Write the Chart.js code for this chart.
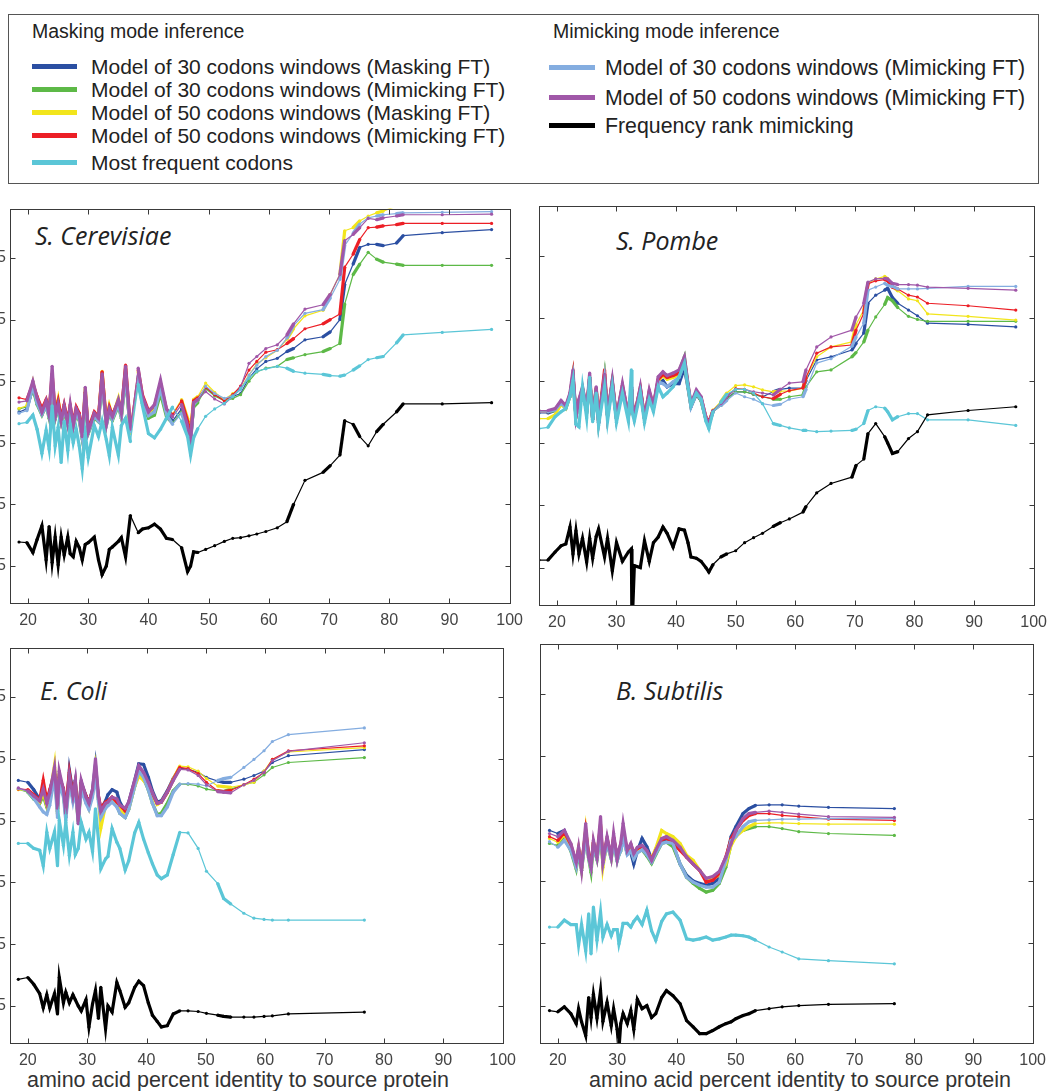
<!DOCTYPE html>
<html>
<head>
<meta charset="utf-8">
<script src="https://cdn.jsdelivr.net/npm/chart.js@4.4.1/dist/chart.umd.min.js"></script>
<style>
  html, body { margin: 0; padding: 0; background: #fff; }
  body { width: 1058px; height: 1091px; position: relative; overflow: hidden; font-family: "Liberation Sans", Arial, sans-serif; color: #222; }
  .box { position: absolute; left: 8px; top: 14px; width: 1031px; height: 170px; border: 1px solid #555; box-sizing: border-box; }
  .txt { position: absolute; white-space: nowrap; height: 24px; line-height: 24px; }
  .sw { position: absolute; height: 5px; }
  .species { position: absolute; font-family: "Open Sans", sans-serif; font-style: italic; font-size: 25px; letter-spacing: 0; line-height: 30px; color: #222; white-space: nowrap; }
  .xtitle { position: absolute; font-size: 21.5px; color: #333; line-height: 26px; white-space: nowrap; }
  canvas { position: absolute; }
</style>
</head>
<body>
<div class="box"></div>
<div id="legend"></div>

<div class="species" style="left:35px; top:220px;">S. Cerevisiae</div>
<div class="species" style="left:616px; top:225px;">S. Pombe</div>
<div class="species" style="left:40px; top:675px;">E. Coli</div>
<div class="species" style="left:616px; top:675px;">B. Subtilis</div>

<div class="xtitle" style="left:27px; top:1067px;">amino acid percent identity to source protein</div>
<div class="xtitle" style="left:589px; top:1067px;">amino acid percent identity to source protein</div>

<canvas id="c1"></canvas>
<canvas id="c2"></canvas>
<canvas id="c3"></canvas>
<canvas id="c4"></canvas>

<script>
// ---- series names / colours ----
const MASKING_TITLE = "Masking mode inference";
const MIMICKING_TITLE = "Mimicking mode inference";
const NAMES = {
  blue: "Model of 30 codons windows (Masking FT)",
  green: "Model of 30 codons windows (Mimicking FT)",
  yellow: "Model of 50 codons windows (Masking FT)",
  red: "Model of 50 codons windows (Mimicking FT)",
  cyan: "Most frequent codons",
  lightblue: "Model of 30 codons windows (Mimicking FT)",
  purple: "Model of 50 codons windows (Mimicking FT)",
  black: "Frequency rank mimicking"
};
const COLORS = {
  blue: "#2b4fa2", green: "#5db947", yellow: "#f2e51c", red: "#ec1f26",
  cyan: "#5bc6d7", lightblue: "#84ade0", purple: "#a057a8", black: "#000000"
};

// axes
const X_TICKS = [20, 30, 40, 50, 60, 70, 80, 90, 100];
const Y_TICKS = [0.15, 0.25, 0.35, 0.45, 0.55, 0.65];
const X_MIN = 17, X_MAX = 100, Y_MIN = 0.09, Y_MAX = 0.73;

// ---- S. Cerevisiae ----
const P1_X = [
  18.5, 19.8, 20.8, 21.5, 22.3, 23, 23.5, 24, 24.5, 25,
  25.5, 26, 26.6, 27, 27.5, 28, 28.5, 29, 29.5, 30,
  31, 31.7, 32.3, 33, 33.5, 34, 35, 35.5, 36.2, 37,
  38.3, 39, 40, 41, 42, 43, 44, 45.5, 46.5, 47,
  47.5, 48.2, 49.5, 51, 52.6, 54, 55.3, 56.7, 58, 59.5,
  61.4, 63, 64.1, 66, 69, 70.2, 71.8, 72.6, 74, 75.1,
  76.5, 77.9, 79, 81.2, 82.3, 88.8, 97];
const P1_BLUE = [
  0.400, 0.405, 0.440, 0.415, 0.398, 0.412, 0.394, 0.448, 0.392, 0.410,
  0.386, 0.405, 0.382, 0.404, 0.378, 0.400, 0.390, 0.360, 0.425, 0.368,
  0.395, 0.386, 0.455, 0.380, 0.402, 0.390, 0.414, 0.394, 0.462, 0.368,
  0.455, 0.418, 0.396, 0.402, 0.435, 0.398, 0.385, 0.405, 0.375, 0.358,
  0.410, 0.418, 0.440, 0.428, 0.420, 0.425, 0.430, 0.455, 0.470, 0.482,
  0.487, 0.498, 0.503, 0.517, 0.522, 0.530, 0.550, 0.607, 0.640, 0.667,
  0.672, 0.672, 0.670, 0.674, 0.686, 0.691, 0.696];
const P1_GREEN = [
  0.405, 0.408, 0.438, 0.412, 0.395, 0.410, 0.390, 0.445, 0.388, 0.405,
  0.382, 0.400, 0.378, 0.400, 0.375, 0.396, 0.386, 0.356, 0.420, 0.365,
  0.390, 0.384, 0.450, 0.378, 0.398, 0.386, 0.410, 0.390, 0.458, 0.366,
  0.450, 0.414, 0.390, 0.395, 0.430, 0.392, 0.382, 0.400, 0.372, 0.356,
  0.408, 0.415, 0.438, 0.426, 0.418, 0.422, 0.428, 0.450, 0.465, 0.471,
  0.474, 0.485, 0.488, 0.493, 0.498, 0.503, 0.511, 0.575, 0.623, 0.640,
  0.659, 0.648, 0.643, 0.640, 0.638, 0.638, 0.638];
const P1_YELLOW = [
  0.406, 0.410, 0.448, 0.420, 0.402, 0.416, 0.398, 0.455, 0.395, 0.420,
  0.388, 0.408, 0.384, 0.408, 0.380, 0.402, 0.392, 0.362, 0.438, 0.370,
  0.396, 0.388, 0.466, 0.382, 0.410, 0.392, 0.422, 0.396, 0.470, 0.365,
  0.465, 0.420, 0.398, 0.408, 0.440, 0.400, 0.396, 0.420, 0.390, 0.370,
  0.420, 0.425, 0.447, 0.432, 0.420, 0.430, 0.438, 0.460, 0.478, 0.488,
  0.500, 0.518, 0.535, 0.556, 0.565, 0.591, 0.623, 0.694, 0.699, 0.710,
  0.718, 0.723, 0.726, 0.734, null, null, null];
const P1_RED = [
  0.423, 0.420, 0.445, 0.425, 0.405, 0.420, 0.400, 0.462, 0.398, 0.418,
  0.390, 0.412, 0.386, 0.410, 0.382, 0.408, 0.398, 0.365, 0.432, 0.372,
  0.400, 0.392, 0.465, 0.385, 0.408, 0.395, 0.418, 0.400, 0.476, 0.375,
  0.468, 0.428, 0.402, 0.410, 0.446, 0.404, 0.395, 0.418, 0.385, 0.362,
  0.418, 0.423, 0.440, 0.428, 0.418, 0.428, 0.442, 0.468, 0.482, 0.497,
  0.501, 0.511, 0.519, 0.535, 0.543, 0.550, 0.559, 0.635, 0.656, 0.680,
  0.699, 0.700, 0.702, 0.704, 0.706, 0.706, 0.706];
const P1_CYAN = [
  0.381, 0.383, 0.395, 0.372, 0.333, 0.370, 0.340, 0.410, 0.345, 0.375,
  0.318, 0.385, 0.338, 0.380, 0.350, 0.372, 0.345, 0.308, 0.365, 0.326,
  0.378, 0.360, 0.385, 0.355, 0.329, 0.375, 0.330, 0.378, 0.390, 0.352,
  0.445, 0.410, 0.365, 0.358, 0.372, 0.390, 0.408, 0.385, 0.360, 0.330,
  0.358, 0.373, 0.393, 0.405, 0.414, 0.425, 0.438, 0.455, 0.466, 0.470,
  0.474, 0.471, 0.466, 0.463, 0.461, 0.459, 0.458, 0.460, 0.468, 0.475,
  0.485, 0.488, 0.490, 0.512, 0.525, 0.529, 0.534];
const P1_LIGHTBLUE = [
  0.398, 0.402, 0.442, 0.414, 0.396, 0.410, 0.392, 0.450, 0.390, 0.408,
  0.384, 0.404, 0.380, 0.402, 0.376, 0.398, 0.388, 0.358, 0.428, 0.366,
  0.393, 0.385, 0.452, 0.378, 0.400, 0.388, 0.412, 0.392, 0.460, 0.368,
  0.458, 0.416, 0.394, 0.400, 0.438, 0.396, 0.380, 0.398, 0.370, 0.350,
  0.412, 0.420, 0.442, 0.430, 0.422, 0.426, 0.436, 0.460, 0.476, 0.490,
  0.500, 0.520, 0.540, 0.560, 0.566, 0.585, 0.615, 0.670, 0.690, 0.705,
  0.715, 0.718, 0.720, 0.722, 0.723, 0.724, 0.725];
const P1_PURPLE = [
  0.416, 0.418, 0.450, 0.423, 0.400, 0.418, 0.395, 0.474, 0.392, 0.413,
  0.385, 0.410, 0.380, 0.412, 0.378, 0.405, 0.395, 0.360, 0.440, 0.368,
  0.398, 0.390, 0.462, 0.380, 0.405, 0.392, 0.420, 0.398, 0.474, 0.372,
  0.471, 0.425, 0.400, 0.412, 0.452, 0.405, 0.392, 0.412, 0.378, 0.352,
  0.415, 0.420, 0.433, 0.421, 0.413, 0.425, 0.440, 0.479, 0.490, 0.503,
  0.509, 0.525, 0.543, 0.567, 0.574, 0.591, 0.623, 0.678, 0.688, 0.699,
  0.714, 0.712, 0.715, 0.718, 0.720, 0.720, 0.721];
const P1_BLACK = [
  0.189, 0.188, 0.172, 0.193, 0.215, 0.160, 0.214, 0.156, 0.197, 0.152,
  0.197, 0.168, 0.197, 0.170, 0.165, 0.190, 0.180, 0.160, 0.185, 0.188,
  0.197, 0.160, 0.136, 0.150, 0.177, 0.181, 0.190, 0.196, 0.165, 0.232,
  0.204, 0.210, 0.212, 0.218, 0.210, 0.195, 0.193, 0.180, 0.141, 0.150,
  0.173, 0.172, 0.177, 0.183, 0.190, 0.195, 0.196, 0.199, 0.202, 0.206,
  0.212, 0.222, 0.250, 0.289, 0.302, 0.313, 0.330, 0.386, 0.380, 0.360,
  0.345, 0.368, 0.380, 0.400, 0.413, 0.413, 0.415];

// ---- S. Pombe ----
const P2_X = [
  17, 18.5, 19.7, 20.7, 21.5, 22.2, 22.7, 23.2, 23.7, 24.3,
  25, 25.5, 26, 26.6, 27, 28, 28.5, 29.3, 30, 31,
  32, 32.5, 32.6, 33, 34, 34.7, 35.5, 36.2, 37, 37.8,
  38.5, 39.5, 40.5, 41.4, 42, 42.5, 43.4, 44.2, 45, 45.5,
  46.2, 47.5, 48.5, 50, 51.5, 53, 54.5, 56.3, 57.5, 59,
  61.3, 61.8, 63.6, 66, 69.5, 70.2, 71.5, 72.2, 73.5, 75,
  75.5, 76.3, 77.2, 79, 80.5, 82.2, 89, 97];
const P2_BLUE = [
  0.398, 0.398, 0.402, 0.414, 0.406, 0.425, 0.455, 0.392, 0.415, 0.434,
  0.400, 0.452, 0.388, 0.434, 0.383, 0.455, 0.393, 0.444, 0.389, 0.438,
  0.392, 0.432, 0.414, 0.392, 0.434, 0.389, 0.428, 0.406, 0.445, 0.450,
  0.440, 0.445, 0.445, 0.470, 0.438, 0.408, 0.428, 0.418, 0.388, 0.380,
  0.400, 0.410, 0.422, 0.432, 0.432, 0.428, 0.424, 0.432, 0.436, 0.438,
  0.438, 0.450, 0.483, 0.488, 0.499, 0.510, 0.526, 0.574, 0.587, 0.595,
  0.598, 0.583, 0.574, 0.563, 0.554, 0.542, 0.540, 0.536];
const P2_GREEN = [
  0.402, 0.400, 0.402, 0.414, 0.406, 0.425, 0.458, 0.392, 0.414, 0.435,
  0.400, 0.455, 0.388, 0.436, 0.383, 0.458, 0.394, 0.448, 0.389, 0.438,
  0.392, 0.434, 0.415, 0.392, 0.436, 0.389, 0.428, 0.406, 0.450, 0.462,
  0.456, 0.460, 0.465, 0.488, 0.442, 0.410, 0.430, 0.418, 0.388, 0.380,
  0.400, 0.410, 0.420, 0.432, 0.432, 0.428, 0.424, 0.420, 0.420, 0.424,
  0.427, 0.440, 0.464, 0.467, 0.488, 0.495, 0.512, 0.531, 0.552, 0.572,
  0.583, 0.578, 0.567, 0.553, 0.548, 0.545, 0.545, 0.545];
const P2_YELLOW = [
  0.389, 0.389, 0.395, 0.412, 0.405, 0.426, 0.455, 0.392, 0.416, 0.436,
  0.402, 0.452, 0.389, 0.436, 0.384, 0.455, 0.395, 0.446, 0.390, 0.440,
  0.393, 0.434, 0.416, 0.394, 0.436, 0.391, 0.430, 0.408, 0.450, 0.458,
  0.452, 0.455, 0.460, 0.480, 0.440, 0.410, 0.430, 0.420, 0.390, 0.382,
  0.403, 0.416, 0.430, 0.442, 0.443, 0.440, 0.435, 0.432, 0.433, 0.433,
  0.438, 0.455, 0.488, 0.504, 0.512, 0.540, 0.563, 0.606, 0.613, 0.617,
  0.613, 0.601, 0.594, 0.581, 0.578, 0.557, 0.553, 0.547];
const P2_RED = [
  0.400, 0.400, 0.404, 0.415, 0.408, 0.428, 0.460, 0.395, 0.418, 0.438,
  0.405, 0.455, 0.390, 0.438, 0.385, 0.467, 0.396, 0.448, 0.392, 0.442,
  0.395, 0.436, 0.418, 0.395, 0.438, 0.392, 0.432, 0.410, 0.452, 0.460,
  0.455, 0.458, 0.462, 0.482, 0.442, 0.412, 0.432, 0.422, 0.392, 0.383,
  0.402, 0.414, 0.425, 0.437, 0.436, 0.430, 0.424, 0.421, 0.428, 0.434,
  0.438, 0.455, 0.494, 0.504, 0.507, 0.531, 0.558, 0.605, 0.610, 0.612,
  0.610, 0.600, 0.597, 0.587, 0.584, 0.574, 0.570, 0.563];
const P2_CYAN = [
  0.373, 0.375, 0.392, 0.400, 0.405, 0.425, 0.450, 0.380, 0.376, 0.440,
  0.390, 0.455, 0.384, 0.430, 0.378, 0.440, 0.385, 0.440, 0.383, 0.430,
  0.385, 0.467, 0.400, 0.385, 0.430, 0.383, 0.420, 0.400, 0.440, 0.424,
  0.430, 0.440, 0.456, 0.478, 0.440, 0.410, 0.430, 0.420, 0.385, 0.373,
  0.400, 0.415, 0.428, 0.436, 0.436, 0.430, 0.413, 0.381, 0.378, 0.374,
  0.370, 0.370, 0.368, 0.369, 0.370, 0.372, 0.381, 0.402, 0.408, 0.406,
  0.400, 0.387, 0.392, 0.397, 0.397, 0.387, 0.387, 0.378];
const P2_LIGHTBLUE = [
  0.400, 0.400, 0.403, 0.414, 0.406, 0.426, 0.456, 0.392, 0.414, 0.436,
  0.400, 0.452, 0.388, 0.435, 0.383, 0.455, 0.393, 0.446, 0.389, 0.440,
  0.392, 0.434, 0.414, 0.392, 0.434, 0.389, 0.428, 0.406, 0.448, 0.445,
  0.440, 0.448, 0.455, 0.478, 0.440, 0.408, 0.430, 0.420, 0.390, 0.380,
  0.400, 0.410, 0.418, 0.430, 0.424, 0.420, 0.413, 0.410, 0.412, 0.420,
  0.424, 0.436, 0.478, 0.485, 0.505, 0.520, 0.542, 0.595, 0.600, 0.606,
  0.603, 0.601, 0.597, 0.597, 0.597, 0.598, 0.601, 0.601];
const P2_PURPLE = [
  0.402, 0.402, 0.405, 0.418, 0.410, 0.430, 0.467, 0.392, 0.420, 0.440,
  0.405, 0.462, 0.387, 0.440, 0.381, 0.460, 0.395, 0.451, 0.390, 0.445,
  0.392, 0.440, 0.420, 0.392, 0.440, 0.390, 0.435, 0.410, 0.456, 0.464,
  0.458, 0.462, 0.467, 0.488, 0.445, 0.413, 0.435, 0.424, 0.390, 0.381,
  0.402, 0.413, 0.424, 0.436, 0.436, 0.432, 0.430, 0.427, 0.436, 0.446,
  0.448, 0.467, 0.504, 0.520, 0.531, 0.552, 0.574, 0.608, 0.613, 0.614,
  0.613, 0.606, 0.604, 0.604, 0.603, 0.600, 0.598, 0.595];
const P2_BLACK = [
  0.162, 0.162, 0.175, 0.185, 0.188, 0.215, 0.172, 0.209, 0.172, 0.197,
  0.159, 0.197, 0.165, 0.200, 0.212, 0.167, 0.197, 0.145, 0.190, 0.160,
  0.175, 0.180, 0.050, 0.153, 0.150, 0.193, 0.160, 0.190, 0.199, 0.215,
  0.205, 0.183, 0.212, 0.210, 0.190, 0.167, 0.165, 0.160, 0.150, 0.143,
  0.155, 0.167, 0.172, 0.177, 0.190, 0.198, 0.205, 0.216, 0.222, 0.228,
  0.239, 0.248, 0.270, 0.285, 0.295, 0.314, 0.324, 0.365, 0.381, 0.360,
  0.350, 0.333, 0.336, 0.357, 0.368, 0.395, 0.402, 0.408];

// ---- E. Coli ----
const P3_X = [
  18.4, 20, 21, 22, 22.6, 23.2, 23.7, 24.5, 25, 25.3,
  26, 26.4, 27, 27.6, 28, 28.5, 29, 29.8, 30.3, 30.9,
  31.4, 31.9, 32.3, 33.1, 33.5, 34.2, 35, 35.5, 36.4, 37,
  38, 38.7, 39.5, 40.3, 41, 41.8, 42.5, 43.5, 44.5, 45.6,
  47, 48.7, 50.1, 52, 53, 54.2, 56.4, 58.1, 59.8, 61.2,
  63.9, 76.7];
const P3_BLUE = [
  0.515, 0.512, 0.500, 0.484, 0.500, 0.478, 0.498, 0.530, 0.475, 0.522,
  0.500, 0.455, 0.532, 0.495, 0.515, 0.452, 0.512, 0.490, 0.478, 0.500,
  0.540, 0.488, 0.468, 0.482, 0.492, 0.500, 0.496, 0.480, 0.465, 0.480,
  0.515, 0.542, 0.541, 0.520, 0.498, 0.480, 0.482, 0.498, 0.518, 0.535,
  0.533, 0.528, 0.520, 0.514, 0.512, 0.512, 0.517, 0.523, 0.530, 0.544,
  0.555, 0.565];
const P3_GREEN = [
  0.501, 0.496, 0.485, 0.478, 0.490, 0.472, 0.488, 0.525, 0.465, 0.515,
  0.492, 0.460, 0.515, 0.485, 0.505, 0.450, 0.505, 0.482, 0.472, 0.492,
  0.530, 0.484, 0.462, 0.474, 0.476, 0.482, 0.474, 0.462, 0.455, 0.468,
  0.505, 0.528, 0.518, 0.500, 0.478, 0.460, 0.462, 0.478, 0.498, 0.509,
  0.509, 0.506, 0.501, 0.498, 0.497, 0.501, 0.508, 0.512, 0.524, 0.536,
  0.544, 0.552];
const P3_YELLOW = [
  0.500, 0.498, 0.488, 0.480, 0.495, 0.475, 0.490, 0.540, 0.462, 0.525,
  0.495, 0.458, 0.518, 0.486, 0.505, 0.448, 0.505, 0.484, 0.470, 0.495,
  0.535, 0.485, 0.438, 0.475, 0.478, 0.484, 0.478, 0.468, 0.458, 0.470,
  0.505, 0.522, 0.515, 0.505, 0.490, 0.476, 0.480, 0.495, 0.517, 0.538,
  0.537, 0.530, 0.518, 0.506, 0.505, 0.504, 0.508, 0.512, 0.530, 0.549,
  0.561, 0.568];
const P3_RED = [
  0.501, 0.500, 0.492, 0.483, 0.515, 0.482, 0.500, 0.525, 0.478, 0.520,
  0.502, 0.470, 0.528, 0.492, 0.512, 0.455, 0.510, 0.490, 0.480, 0.498,
  0.525, 0.490, 0.470, 0.480, 0.482, 0.488, 0.480, 0.475, 0.466, 0.478,
  0.512, 0.535, 0.525, 0.510, 0.494, 0.478, 0.480, 0.496, 0.516, 0.536,
  0.534, 0.526, 0.512, 0.498, 0.497, 0.499, 0.508, 0.517, 0.528, 0.549,
  0.563, 0.571];
const P3_CYAN = [
  0.413, 0.413, 0.405, 0.402, 0.377, 0.431, 0.405, 0.432, 0.377, 0.450,
  0.410, 0.447, 0.394, 0.431, 0.395, 0.405, 0.447, 0.420, 0.431, 0.400,
  0.469, 0.420, 0.372, 0.388, 0.392, 0.437, 0.415, 0.405, 0.370, 0.385,
  0.430, 0.447, 0.420, 0.398, 0.380, 0.362, 0.356, 0.362, 0.395, 0.431,
  0.430, 0.405, 0.368, 0.348, 0.324, 0.315, 0.300, 0.292, 0.290, 0.289,
  0.289, 0.289];
const P3_LIGHTBLUE = [
  0.502, 0.497, 0.486, 0.472, 0.464, 0.460, 0.475, 0.520, 0.455, 0.510,
  0.488, 0.450, 0.512, 0.480, 0.500, 0.445, 0.500, 0.478, 0.468, 0.488,
  0.525, 0.480, 0.455, 0.470, 0.474, 0.480, 0.472, 0.462, 0.455, 0.468,
  0.505, 0.530, 0.520, 0.500, 0.478, 0.458, 0.458, 0.472, 0.496, 0.509,
  0.510, 0.509, 0.506, 0.515, 0.518, 0.520, 0.536, 0.549, 0.563, 0.578,
  0.589, 0.600];
const P3_PURPLE = [
  0.503, 0.498, 0.490, 0.482, 0.501, 0.478, 0.495, 0.536, 0.470, 0.530,
  0.500, 0.462, 0.523, 0.490, 0.515, 0.445, 0.515, 0.488, 0.478, 0.500,
  0.550, 0.490, 0.465, 0.478, 0.480, 0.488, 0.485, 0.475, 0.470, 0.480,
  0.515, 0.539, 0.528, 0.512, 0.495, 0.478, 0.480, 0.496, 0.515, 0.533,
  0.532, 0.523, 0.508, 0.497, 0.496, 0.495, 0.508, 0.515, 0.528, 0.547,
  0.562, 0.576];
const P3_BLACK = [
  0.193, 0.196, 0.185, 0.170, 0.147, 0.168, 0.147, 0.170, 0.137, 0.196,
  0.155, 0.172, 0.155, 0.168, 0.160, 0.150, 0.142, 0.160, 0.116, 0.153,
  0.175, 0.130, 0.180, 0.113, 0.150, 0.140, 0.188, 0.175, 0.148, 0.155,
  0.180, 0.190, 0.183, 0.155, 0.135, 0.125, 0.116, 0.118, 0.137, 0.142,
  0.142, 0.141, 0.138, 0.135, 0.133, 0.132, 0.132, 0.132, 0.133, 0.134,
  0.137, 0.140];

// ---- B. Subtilis ----
const P4_X = [
  18.6, 20, 21.1, 22.2, 23.1, 23.5, 24, 24.7, 25.2, 25.6,
  26, 26.6, 27.2, 27.6, 28.3, 29, 29.4, 30, 30.3, 30.6,
  31, 31.7, 32.3, 32.8, 33.4, 34.2, 35, 35.8, 36.5, 37.5,
  38.3, 39.4, 40.6, 41.7, 42.8, 43.9, 45, 46.1, 47.2, 48.3,
  49.2, 50, 51.2, 52.2, 53.3, 55.6, 57.8, 60.6, 65.6, 76.7];
const P4_BLUE = [
  0.431, 0.426, 0.431, 0.405, 0.380, 0.400, 0.375, 0.425, 0.390, 0.378,
  0.410, 0.392, 0.430, 0.385, 0.415, 0.390, 0.418, 0.390, 0.396, 0.402,
  0.425, 0.398, 0.395, 0.377, 0.398, 0.418, 0.405, 0.385, 0.398, 0.412,
  0.415, 0.408, 0.377, 0.359, 0.350, 0.346, 0.343, 0.346, 0.354, 0.383,
  0.421, 0.437, 0.458, 0.466, 0.471, 0.472, 0.472, 0.470, 0.468, 0.466];
const P4_GREEN = [
  0.410, 0.407, 0.420, 0.398, 0.369, 0.395, 0.367, 0.420, 0.385, 0.364,
  0.405, 0.384, 0.425, 0.378, 0.410, 0.385, 0.412, 0.382, 0.392, 0.398,
  0.420, 0.394, 0.400, 0.386, 0.396, 0.400, 0.390, 0.378, 0.392, 0.410,
  0.412, 0.405, 0.377, 0.356, 0.346, 0.338, 0.332, 0.335, 0.346, 0.372,
  0.410, 0.426, 0.431, 0.434, 0.437, 0.437, 0.434, 0.429, 0.426, 0.423];
const P4_YELLOW = [
  0.418, 0.412, 0.425, 0.405, 0.375, 0.400, 0.370, 0.432, 0.388, 0.372,
  0.410, 0.388, 0.438, 0.372, 0.415, 0.388, 0.418, 0.386, 0.396, 0.405,
  0.428, 0.398, 0.405, 0.393, 0.400, 0.402, 0.396, 0.386, 0.402, 0.431,
  0.426, 0.421, 0.410, 0.391, 0.383, 0.367, 0.351, 0.354, 0.359, 0.377,
  0.407, 0.421, 0.431, 0.437, 0.442, 0.443, 0.443, 0.442, 0.441, 0.441];
const P4_RED = [
  0.421, 0.415, 0.428, 0.408, 0.378, 0.402, 0.372, 0.430, 0.392, 0.375,
  0.412, 0.390, 0.440, 0.382, 0.418, 0.390, 0.420, 0.388, 0.398, 0.408,
  0.430, 0.400, 0.408, 0.396, 0.402, 0.405, 0.398, 0.385, 0.398, 0.416,
  0.418, 0.410, 0.399, 0.388, 0.377, 0.367, 0.348, 0.351, 0.362, 0.388,
  0.418, 0.431, 0.447, 0.455, 0.458, 0.458, 0.455, 0.453, 0.449, 0.447];
const P4_CYAN = [
  0.276, 0.276, 0.287, 0.280, 0.280, 0.247, 0.280, 0.238, 0.297, 0.233,
  0.308, 0.255, 0.300, 0.260, 0.280, 0.262, 0.272, 0.272, 0.249, 0.262,
  0.282, 0.282, 0.276, 0.285, 0.292, 0.280, 0.303, 0.270, 0.255, 0.285,
  0.297, 0.300, 0.287, 0.257, 0.255, 0.257, 0.260, 0.255, 0.257, 0.260,
  0.263, 0.263, 0.262, 0.260, 0.255, 0.244, 0.236, 0.225, 0.222, 0.217];
const P4_LIGHTBLUE = [
  0.413, 0.404, 0.415, 0.399, 0.372, 0.396, 0.370, 0.418, 0.386, 0.370,
  0.405, 0.385, 0.425, 0.378, 0.410, 0.386, 0.410, 0.382, 0.392, 0.398,
  0.418, 0.392, 0.398, 0.385, 0.395, 0.400, 0.392, 0.380, 0.394, 0.410,
  0.412, 0.410, 0.377, 0.356, 0.348, 0.343, 0.340, 0.340, 0.348, 0.383,
  0.415, 0.421, 0.437, 0.445, 0.447, 0.448, 0.449, 0.449, 0.450, 0.450];
const P4_PURPLE = [
  0.426, 0.421, 0.431, 0.410, 0.380, 0.404, 0.367, 0.442, 0.388, 0.372,
  0.415, 0.388, 0.453, 0.380, 0.421, 0.388, 0.426, 0.385, 0.400, 0.410,
  0.442, 0.399, 0.410, 0.394, 0.404, 0.407, 0.399, 0.383, 0.399, 0.418,
  0.421, 0.415, 0.404, 0.388, 0.377, 0.367, 0.354, 0.357, 0.365, 0.388,
  0.410, 0.431, 0.450, 0.458, 0.460, 0.462, 0.460, 0.457, 0.453, 0.452];
const P4_BLACK = [
  0.142, 0.140, 0.148, 0.137, 0.121, 0.145, 0.124, 0.102, 0.163, 0.131,
  0.168, 0.130, 0.174, 0.125, 0.155, 0.118, 0.145, 0.112, 0.080, 0.121,
  0.137, 0.121, 0.142, 0.112, 0.160, 0.145, 0.150, 0.131, 0.137, 0.163,
  0.174, 0.166, 0.153, 0.126, 0.116, 0.105, 0.105, 0.110, 0.116, 0.121,
  0.124, 0.129, 0.134, 0.137, 0.142, 0.145, 0.148, 0.150, 0.152, 0.153];

// ---- legend (html) ----
const legend = document.getElementById('legend');
function addText(txt, left, cy, size) {
  const d = document.createElement('div');
  d.className = 'txt';
  d.style.left = left + 'px';
  d.style.top = (cy - 12) + 'px';
  d.style.fontSize = size + 'px';
  d.textContent = txt;
  legend.appendChild(d);
}
function addSwatch(color, left, cy, w) {
  const s = document.createElement('div');
  s.className = 'sw';
  s.style.left = left + 'px';
  s.style.top = (cy - 2.5) + 'px';
  s.style.width = w + 'px';
  s.style.background = color;
  legend.appendChild(s);
}
addText(MASKING_TITLE, 32, 31, 19.5);
addText(MIMICKING_TITLE, 553, 31, 19.5);
[['blue', 66], ['green', 89], ['yellow', 112], ['red', 135], ['cyan', 162]].forEach(([k, cy]) => {
  addSwatch(COLORS[k], 32, cy, 45);
  addText(NAMES[k], 91, cy + 1, 21);
});
[['lightblue', 67], ['purple', 97], ['black', 125]].forEach(([k, cy]) => {
  addSwatch(COLORS[k], 549, cy, 46);
  addText(NAMES[k], 605, cy + 1, 21.3);
});

// ---- chart helpers ----
const frame = {
  id: 'frame',
  afterDraw(chart) {
    const { ctx, chartArea: a, scales } = chart;
    const L = Math.round(a.left) + 0.5, R = Math.round(a.right) + 0.5;
    const T = Math.round(a.top) + 0.5, B = Math.round(a.bottom) + 0.5;
    ctx.save();
    ctx.strokeStyle = '#3a3a3a';
    ctx.lineWidth = 1;
    ctx.strokeRect(L, T, R - L, B - T);
    ctx.beginPath();
    X_TICKS.forEach(v => {
      const px = Math.round(scales.x.getPixelForValue(v)) + 0.5;
      ctx.moveTo(px, B); ctx.lineTo(px, B - 5);
      ctx.moveTo(px, T); ctx.lineTo(px, T + 5);
    });
    Y_TICKS.forEach(v => {
      const py = Math.round(scales.y.getPixelForValue(v)) + 0.5;
      ctx.moveTo(L, py); ctx.lineTo(L + 5, py);
      ctx.moveTo(R, py); ctx.lineTo(R - 5, py);
    });
    ctx.stroke();
    ctx.restore();
  }
};

function line(key, xs, ys) {
  return {
    label: NAMES[key],
    data: xs.map((x, i) => ({ x: x, y: ys[i] })),
    borderColor: COLORS[key],
    backgroundColor: COLORS[key],
    pointBackgroundColor: COLORS[key],
    pointRadius: 1.6,
    pointBorderWidth: 0,
    borderWidth: 1.2,
    tension: 0,
    spanGaps: false,
    segment: {
      borderWidth: ctx => (ctx.p1.parsed.x - ctx.p0.parsed.x) < 1.25 ? 3.2 : 1.2
    }
  };
}

function panel(id, area, showY, xs, s) {
  const cv = document.getElementById(id);
  const w = 40 + (area.r - area.l) + 16;
  const h = 10 + (area.b - area.t) + 40;
  cv.width = w; cv.height = h;
  cv.style.left = (area.l - 40) + 'px';
  cv.style.top = (area.t - 10) + 'px';
  cv.style.width = w + 'px';
  cv.style.height = h + 'px';
  new Chart(cv, {
    type: 'line',
    data: {
      datasets: [
        line('black', xs, s.black),
        line('cyan', xs, s.cyan),
        line('purple', xs, s.purple),
        line('lightblue', xs, s.lightblue),
        line('red', xs, s.red),
        line('yellow', xs, s.yellow),
        line('green', xs, s.green),
        line('blue', xs, s.blue)
      ]
    },
    options: {
      responsive: false,
      animation: false,
      layout: { padding: { top: 10, right: 16, left: 0, bottom: 0 } },
      plugins: { legend: { display: false }, tooltip: { enabled: false } },
      scales: {
        x: {
          type: 'linear', min: X_MIN, max: X_MAX,
          afterBuildTicks: sc => { sc.ticks = X_TICKS.map(v => ({ value: v })); },
          afterFit: sc => { sc.height = 40; },
          grid: { display: false, drawTicks: false },
          border: { display: false },
          ticks: { autoSkip: false, maxRotation: 0, padding: 8, color: '#444',
                   font: { family: '"Liberation Sans", Arial, sans-serif', size: 16 } }
        },
        y: {
          type: 'linear', min: Y_MIN, max: Y_MAX,
          afterBuildTicks: sc => { sc.ticks = Y_TICKS.map(v => ({ value: v })); },
          afterFit: sc => { sc.width = 40; },
          grid: { display: false, drawTicks: false },
          border: { display: false },
          ticks: { display: showY, padding: 4, color: '#444',
                   font: { family: '"Liberation Sans", Arial, sans-serif', size: 16 },
                   callback: v => v.toFixed(2) }
        }
      }
    },
    plugins: [frame]
  });
}

panel('c1', { l: 10, r: 515, t: 205, b: 603 }, true, P1_X, {
  blue: P1_BLUE, green: P1_GREEN, yellow: P1_YELLOW, red: P1_RED,
  cyan: P1_CYAN, lightblue: P1_LIGHTBLUE, purple: P1_PURPLE, black: P1_BLACK });
panel('c2', { l: 539, r: 1039, t: 206, b: 605 }, false, P2_X, {
  blue: P2_BLUE, green: P2_GREEN, yellow: P2_YELLOW, red: P2_RED,
  cyan: P2_CYAN, lightblue: P2_LIGHTBLUE, purple: P2_PURPLE, black: P2_BLACK });
panel('c3', { l: 10, r: 508, t: 644, b: 1043 }, true, P3_X, {
  blue: P3_BLUE, green: P3_GREEN, yellow: P3_YELLOW, red: P3_RED,
  cyan: P3_CYAN, lightblue: P3_LIGHTBLUE, purple: P3_PURPLE, black: P3_BLACK });
panel('c4', { l: 540, r: 1038, t: 644, b: 1043 }, false, P4_X, {
  blue: P4_BLUE, green: P4_GREEN, yellow: P4_YELLOW, red: P4_RED,
  cyan: P4_CYAN, lightblue: P4_LIGHTBLUE, purple: P4_PURPLE, black: P4_BLACK });
</script>
</body>
</html>
